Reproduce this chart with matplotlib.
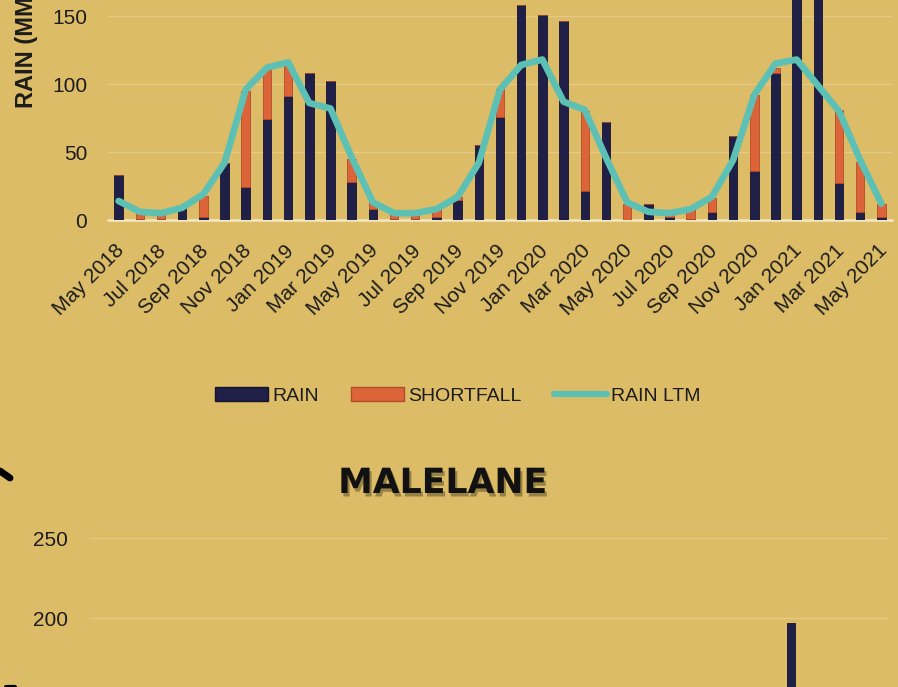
import numpy as np
import matplotlib
matplotlib.use('Agg')
import matplotlib.pyplot as plt
import matplotlib.patheffects as pe
from matplotlib.lines import Line2D
from matplotlib.patches import Patch

# ---------------- data ----------------
months = ['May 2018', 'Jun 2018', 'Jul 2018', 'Aug 2018', 'Sep 2018', 'Oct 2018',
          'Nov 2018', 'Dec 2018', 'Jan 2019', 'Feb 2019', 'Mar 2019', 'Apr 2019',
          'May 2019', 'Jun 2019', 'Jul 2019', 'Aug 2019', 'Sep 2019', 'Oct 2019',
          'Nov 2019', 'Dec 2019', 'Jan 2020', 'Feb 2020', 'Mar 2020', 'Apr 2020',
          'May 2020', 'Jun 2020', 'Jul 2020', 'Aug 2020', 'Sep 2020', 'Oct 2020',
          'Nov 2020', 'Dec 2020', 'Jan 2021', 'Feb 2021', 'Mar 2021', 'Apr 2021',
          'May 2021']
rain = [33, 1, 1, 10, 2, 42, 24, 74, 91, 108, 102, 28,
        8, 1, 1, 2, 15, 55, 76, 158, 151, 146, 21, 72,
        0, 12, 2, 1, 6, 62, 36, 108, 190, 180, 27, 6, 2]
shortfall = [0, 4, 4, 0, 16, 0, 71, 38, 24, 0, 0, 17,
             5, 4, 4, 6, 2, 0, 20, 0, 0, 0, 59, 0,
             12, 0, 3, 6, 10, 0, 56, 4, 0, 0, 54, 37, 10]
rain_ltm = [14, 6, 5, 9, 19, 42, 96, 112, 116, 86, 82, 46,
            13, 5, 5, 8, 17, 42, 96, 114, 118, 87, 81, 46,
            13, 6, 5, 8, 17, 44, 92, 115, 118, 99, 80, 44, 12]
tick_labels = months[::2]

malelane_title = 'MALELANE'
malelane_rain = [None, None, None, None, None, None, None, None, None, None,
                 None, None, None, None, None, None, None, None, None, None,
                 None, None, None, None, None, None, None, None, None, None,
                 None, None, 197, None, None, None, None]
malelane_yticks = [200, 250]

# ---------------- style ----------------
W, H = 898, 687
BG = '#DCBC67'
NAVY = '#1F1F47'
ORANGE = '#DD6438'
TEAL = '#5CC1B4'
GRID = '#E6CB87'
ZERO = '#F3E8C4'
TXT = '#1c1c1c'
FONT = ['Liberation Sans', 'DejaVu Sans']
plt.rcParams['font.family'] = FONT


def fx(px):
    return px / W


def fy(py):
    return 1 - py / H


fig = plt.figure(figsize=(W / 100, H / 100), dpi=100)
fig.patch.set_facecolor(BG)

# ---------------- top chart ----------------
ax = fig.add_axes([fx(108), fy(220), (892 - 108) / W, 220 / H])
ax.set_facecolor('none')
x = np.arange(len(months))
ax.bar(x, rain, width=0.4, color=NAVY, edgecolor='#14142e', linewidth=0.6, zorder=2)
ax.bar(x, shortfall, bottom=rain, width=0.4, color=ORANGE, edgecolor='#B04C2A',
       linewidth=0.6, zorder=2)
ax.plot(x, rain_ltm, color=TEAL, lw=4.8, solid_joinstyle='round',
        solid_capstyle='round', zorder=3)
ax.set_xlim(-0.5, len(months) - 0.5)
ax.set_ylim(0, 220 / 1.36)
ax.set_yticks([0, 50, 100, 150])
ax.grid(axis='y', color=GRID, lw=1)
ax.set_axisbelow(True)
for s in ax.spines.values():
    s.set_visible(False)
ax.axhline(0, color=ZERO, lw=1.8, zorder=1.5, clip_on=False)
ax.tick_params(axis='both', length=0, labelsize=15, colors=TXT)
ax.tick_params(axis='y', pad=15)
ax.set_xticks(x[::2] + 0.12)
ax.set_xticklabels(tick_labels, rotation=45, ha='right', va='center',
                   rotation_mode='anchor')
ax.tick_params(axis='x', pad=20)

fig.text(fx(26), fy(108), 'RAIN (MM)', rotation=90, ha='center', va='bottom',
         fontsize=17, fontweight='bold', color=TXT,
         family=['Liberation Sans Narrow', 'Liberation Sans', 'DejaVu Sans'])

handles = [Patch(facecolor=NAVY, edgecolor='#14142e'),
           Patch(facecolor=ORANGE, edgecolor='#B04C2A'),
           Line2D([0], [0], color=TEAL, lw=4.5, solid_capstyle='round')]
leg = fig.legend(handles, ['RAIN', 'SHORTFALL', 'RAIN LTM'], loc='center',
                 bbox_to_anchor=(fx(458), fy(396)), ncol=3, frameon=False,
                 fontsize=14, handlelength=2.7, handletextpad=0.25,
                 columnspacing=1.65, handleheight=0.7)
for t in leg.get_texts():
    t.set_color(TXT)

# ---------------- bottom chart (MALELANE, partly visible) ----------------
fig.text(fx(443), fy(493), malelane_title, ha='center', va='baseline',
         fontsize=25, fontweight='bold', family='DejaVu Sans', color='#111111',
         path_effects=[pe.withSimplePatchShadow(offset=(1.5, -2.5),
                                                 shadow_rgbFace='#6b5a2e', alpha=0.6)])

ax2 = fig.add_axes([fx(90), fy(938), (888 - 90) / W, 400 / H])
ax2.set_facecolor('none')
mal = np.array(malelane_rain, dtype=float)
ax2.bar(x, mal, width=0.37, color=NAVY, edgecolor='#14142e', linewidth=0.6, zorder=2)
ax2.set_xlim(-0.5, len(months) - 0.5)
ax2.set_ylim(0, 250)
ax2.set_yticks(malelane_yticks)
ax2.grid(axis='y', color=GRID, lw=1)
ax2.set_axisbelow(True)
for s in ax2.spines.values():
    s.set_visible(False)
ax2.tick_params(axis='both', length=0, labelsize=15, colors=TXT)
ax2.tick_params(axis='y', pad=16)
ax2.set_xticks([])

# stray marks at the left edge of the screenshot
fig.add_artist(Line2D([fx(0), fx(10)], [fy(471), fy(478)], transform=fig.transFigure,
                      color='black', lw=5, solid_capstyle='round'))
fig.add_artist(Line2D([fx(6), fx(15)], [fy(687), fy(687)], transform=fig.transFigure,
                      color='black', lw=3, solid_capstyle='round'))

fig.savefig('out.png', dpi=100, facecolor=BG)
